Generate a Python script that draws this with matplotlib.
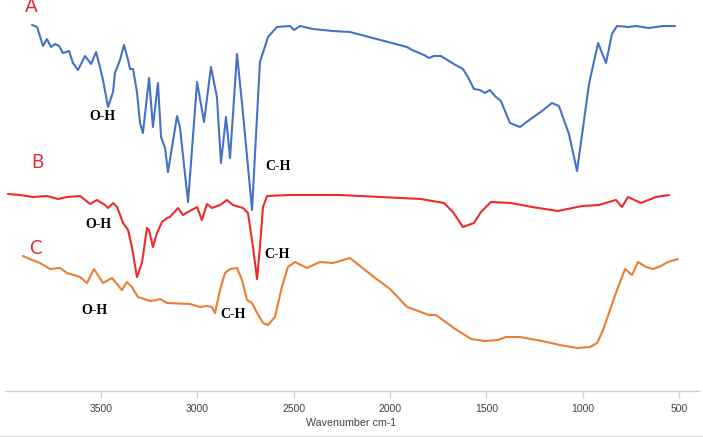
import matplotlib
matplotlib.use("Agg")
import matplotlib.pyplot as plt
from matplotlib.lines import Line2D

# Wavenumbers (cm-1) and offset transmittance (arbitrary units)
wn_a = [3857, 3831, 3800, 3780, 3759, 3738, 3717, 3697, 3665, 3645, 3619, 3582, 3551, 3525,
        3505, 3489, 3463, 3437, 3427, 3401, 3380, 3359, 3349, 3333, 3313, 3297, 3282, 3250,
        3230, 3204, 3188, 3167, 3152, 3105, 3090, 3048, 3001, 2965, 2929, 2898, 2877, 2851,
        2830, 2794, 2763, 2716, 2675, 2633, 2587,
        2519, 2498, 2467, 2400, 2296, 2208, 1912, 1886, 1824, 1798, 1772, 1736, 1669, 1622,
        1596, 1565, 1534, 1508, 1482, 1456, 1425, 1378, 1326, 1285, 1212, 1160, 1124, 1072,
        1030, 968, 921, 880, 849, 823, 761, 725, 657, 584, 522]
t_a = [375, 373, 354, 361, 353, 356, 354, 347, 349, 337, 330, 344, 336, 348,
       333, 320, 293, 308, 327, 340, 355, 340, 331, 331, 308, 277, 267, 322,
       273, 317, 263, 252, 228, 284, 273, 198, 318, 278, 333, 303, 237, 283,
       242, 346, 287, 190, 338, 363, 373,
       374, 370, 374, 371, 369, 368, 353, 350, 345, 342, 344, 344, 336, 331,
       323, 311, 310, 307, 310, 304, 299, 277, 273, 279, 289, 297, 294, 266,
       229, 316, 357, 337, 366, 374, 373, 374, 372, 374, 374]

wn_b = [3982, 3920, 3852, 3780, 3722, 3676, 3608, 3556, 3520, 3479, 3463, 3437, 3416, 3385,
        3359, 3339, 3313, 3287, 3261, 3250, 3230, 3209, 3183, 3157, 3142, 3100, 3074, 3048,
        3001, 2976, 2950, 2924, 2882, 2846, 2815, 2763, 2737, 2711, 2690, 2675, 2659, 2638,
        2519, 2260, 1840, 1720, 1674, 1622, 1565, 1528, 1477,
        1373, 1264, 1129, 1004, 916, 865, 828, 797, 766, 699, 621, 553]
t_b = [206, 205, 203, 204, 201, 203, 204, 196, 200, 195, 192, 197, 193, 177,
       170, 153, 123, 137, 172, 170, 153, 167, 178, 182, 183, 192, 185, 188,
       193, 180, 196, 192, 195, 200, 195, 192, 187, 153, 121, 153, 193, 204,
       205, 205, 201, 197, 188, 173, 177, 188, 198,
       197, 193, 189, 194, 195, 198, 200, 193, 203, 197, 203, 205]

wn_c = [3904, 3857, 3816, 3764, 3712, 3676, 3608, 3572, 3536, 3489, 3442, 3391, 3365, 3339,
        3308, 3245, 3209, 3194, 3157, 3038, 2986, 2950, 2924, 2908, 2882, 2856, 2830, 2794,
        2768, 2742, 2716, 2690, 2659, 2633, 2597, 2561, 2530, 2493,
        2431, 2364, 2296, 2208, 2084, 2000, 1912, 1798,
        1762, 1669, 1580, 1508, 1440, 1399, 1326, 1212, 1119, 1030, 963, 926, 895, 859,
        823, 781, 745, 714, 672, 636, 595, 559, 507]
t_c = [144, 140, 137, 131, 132, 127, 123, 117, 131, 117, 122, 110, 118, 113,
       103, 99, 100, 101, 97, 96, 93, 94, 93, 87, 110, 127, 131, 132,
       120, 100, 97, 87, 77, 75, 83, 113, 133, 138,
       132, 138, 137, 142, 123, 111, 93, 85,
       85, 72, 61, 59, 60, 63, 63, 59, 55, 52, 53, 57, 70, 90,
       110, 131, 125, 138, 133, 131, 134, 138, 141]

series_labels = ["A", "B", "C"]
band_labels = ["O-H", "C-H"]
x_ticks = [3500, 3000, 2500, 2000, 1500, 1000, 500]
x_label = "Wavenumber cm-1"

W, H = 703, 437
fig = plt.figure(figsize=(W / 100, H / 100), dpi=100)
ax = fig.add_axes([4.5 / W, (H - 391) / H, 694 / W, 391 / H])

kw = dict(lw=1.5, solid_joinstyle="round", solid_capstyle="round")
ax.plot(wn_a, t_a, color="#4472C4", **kw)
ax.plot(wn_b, t_b, color="#EE2A2A", **kw)
ax.plot(wn_c, t_c, color="#ED7D31", **kw)

ax.set_xlim(4000, 400)
ax.set_ylim(9, 400)

for s in ["top", "left", "right"]:
    ax.spines[s].set_visible(False)
ax.spines["bottom"].set_color("#d0d0d0")
ax.spines["bottom"].set_linewidth(1.0)
ax.set_yticks([])
ax.set_xticks(x_ticks)
ax.set_xticklabels([str(t) for t in x_ticks])
ax.tick_params(axis="x", direction="out", length=5, width=1, color="#d0d0d0",
               labelsize=7.5, labelcolor="#404040", pad=4)
for lab in ax.get_xticklabels():
    lab.set_family("Liberation Sans")
ax.set_xlabel(x_label, fontsize=7.7, color="#404040", family="Liberation Sans", labelpad=3)

# Series letters
red = "#E8242C"
lab_pos = [(3860, 393), (3831, 238), (3842, 151)]
for txt, (x, y) in zip(series_labels, lab_pos):
    ax.text(x, y, txt, color=red, fontsize=13.5, family="Lato",
            ha="center", va="center")

# Band annotations
band_pos = [(3494, 283, 0), (2581, 234, 1), (3515, 175, 0), (2587, 145, 1),
            (3531, 89, 0), (2815, 86, 1)]
for x, y, i in band_pos:
    ax.text(x, y, band_labels[i], color="black", fontsize=10, fontweight="bold",
            family="Liberation Serif", ha="center", va="center")

# light border at bottom of the chart area
fig.add_artist(Line2D([0, 1], [0.6 / H, 0.6 / H], transform=fig.transFigure,
                      color="#e0e0e0", lw=1))

fig.savefig("out.png", dpi=100)
